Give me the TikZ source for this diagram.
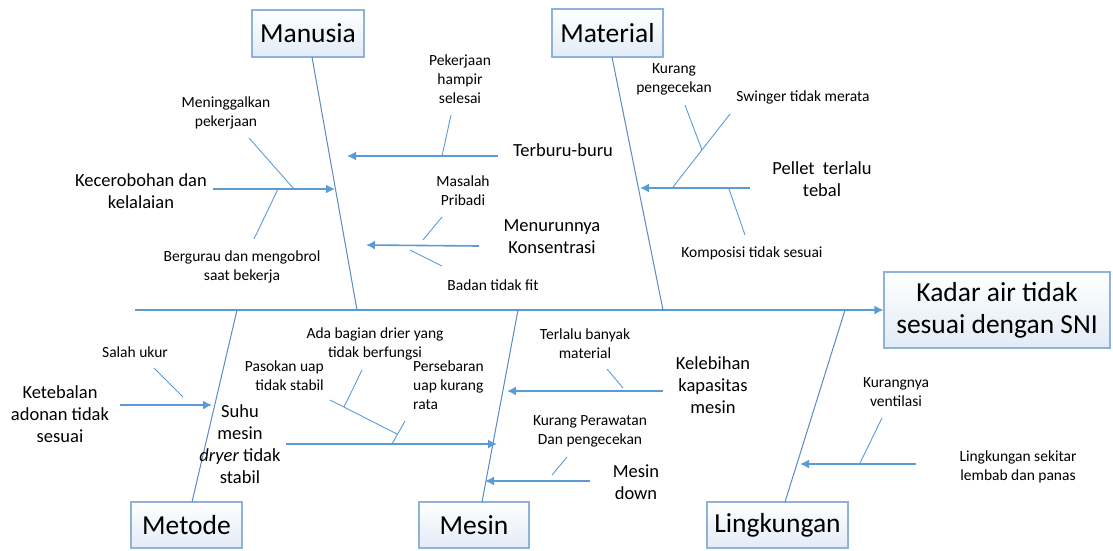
\documentclass[tikz,border=0pt]{standalone}
\usepackage{fontspec}
\setmainfont{Carlito}
\usetikzlibrary{arrows.meta}
\definecolor{arrc}{HTML}{5B9BD5}
\definecolor{bonec}{HTML}{5A8AC6}
\definecolor{boxc}{HTML}{8EB2DC}
\definecolor{boxf}{HTML}{E2EBF6}
\tikzset{
  bone/.style={draw=bonec, line width=1pt},
  arr/.style={draw=arrc, line width=1.6pt, -{Latex[length=9pt,width=9pt]}},
  sub/.style={draw=arrc, line width=0.9pt},
  catbox/.style={draw=boxc, line width=1.1pt, top color=white, bottom color=boxf, inner sep=0pt, font=\fontsize{27.5}{32}\selectfont, align=center},
  big/.style={font=\fontsize{18.5}{22}\selectfont, align=center, inner sep=0pt},
  small/.style={font=\fontsize{15.5}{19}\selectfont, align=center, inner sep=0pt},
}
\begin{document}
\begin{tikzpicture}[x=1pt,y=-1pt]
\useasboundingbox (0,0) rectangle (1113,550);
% category boxes
\node[catbox, minimum width=112pt, minimum height=47pt] (manusia) at (308,33.5) {Manusia};
\node[catbox, minimum width=111pt, minimum height=48pt] (material) at (607.5,33) {Material};
\node[catbox, minimum width=226pt, minimum height=76pt] (kadar) at (997,310) {Kadar air tidak\\sesuai dengan SNI};
\node[catbox, minimum width=111pt, minimum height=46pt] (metode) at (186.5,525) {Metode};
\node[catbox, minimum width=110pt, minimum height=46pt] (mesin) at (474,525) {Mesin};
\node[catbox, minimum width=141pt, minimum height=46pt] (lingk) at (777.5,525) {Lingkungan};

% spine
\coordinate (spL) at (135,310);
\draw[arr] (spL) -- (kadar.west);

% bones
\coordinate (manT) at (312,57);  \coordinate (manB) at (357,310);
\coordinate (matT) at (612,57);  \coordinate (matB) at (663,310);
\coordinate (metT) at (237,310); \coordinate (metB) at (192,502);
\coordinate (mesT) at (518,310); \coordinate (mesB) at (482,502);
\coordinate (linT) at (845,310); \coordinate (linB) at (785,502);
\draw[bone] (manT) -- (manB);
\draw[bone] (matT) -- (matB);
\draw[bone] (metT) -- (metB);
\draw[bone] (mesT) -- (mesB);
\draw[bone] (linT) -- (linB);

% ---- Manusia ----
\node[small] (pekerjaan) at (460,79) {Pekerjaan\\hampir\\selesai};
\node[small] (meninggal) at (226,112.5) {Meninggalkan\\pekerjaan};
\node[big] (kecerobohan) at (141,191.5) {Kecerobohan dan\\kelalaian};
\node[small] (bergurau) at (242,267) {Bergurau dan mengobrol\\saat bekerja};
\node[big] (terburu) at (563,150) {Terburu-buru};
\node[small] (masalah) at (463,190.5) {Masalah\\Pribadi};
\node[big] (menurun) at (552,237) {Menurunnya\\Konsentrasi};
\node[small] (badan) at (493,285) {Badan tidak fit};

\coordinate (tbS) at (498,156); \coordinate (tbE) at (347,156);
\draw[arr] (tbS) -- (tbE);
\coordinate (phA) at (442,156); \coordinate (phB) at (451,115);
\draw[sub] (phA) -- (phB);

\coordinate (kcS) at (213,189); \coordinate (kcE) at (335,189);
\draw[arr] (kcS) -- (kcE);
\coordinate (mpA) at (294,189); \coordinate (mpB) at (249,138);
\draw[sub] (mpA) -- (mpB);
\coordinate (bgA) at (278,189); \coordinate (bgB) at (254,239);
\draw[sub] (bgA) -- (bgB);

\coordinate (mkS) at (479,246); \coordinate (mkE) at (366,245);
\draw[arr] (mkS) -- (mkE);
\coordinate (msA) at (423,240); \coordinate (msB) at (442,217);
\draw[sub] (msA) -- (msB);
\coordinate (btA) at (410,250); \coordinate (btB) at (442,266);
\draw[sub] (btA) -- (btB);

% ---- Material ----
\node[small] (kurangp) at (674,79) {Kurang\\pengecekan};
\node[small] (swinger) at (803,97) {Swinger tidak merata};
\node[big] (pellet) at (822,179) {Pellet~ terlalu\\tebal};
\node[small] (komposisi) at (752,253) {Komposisi tidak sesuai};

\coordinate (ptS) at (750,188); \coordinate (ptE) at (640,188);
\draw[arr] (ptS) -- (ptE);
\coordinate (swA) at (673,187); \coordinate (swB) at (730,114);
\draw[sub] (swA) -- (swB);
\coordinate (kpA) at (702,150); \coordinate (kpB) at (685,105);
\draw[sub] (kpA) -- (kpB);
\coordinate (koA) at (729,189); \coordinate (koB) at (745,235);
\draw[sub] (koA) -- (koB);

% ---- Metode ----
\node[small] (salah) at (135,352) {Salah ukur};
\node[big] (ketebalan) at (60,414) {Ketebalan\\adonan tidak\\sesuai};
\coordinate (ktS) at (120,405); \coordinate (ktE) at (212,405);
\draw[arr] (ktS) -- (ktE);
\coordinate (suA) at (183,397); \coordinate (suB) at (154,368);
\draw[sub] (suA) -- (suB);

% ---- Mesin ----
\node[big] (suhu) at (240,444) {Suhu\\mesin\\\textit{dryer} tidak\\stabil};
\node[small] (adabagian) at (375,343.5) {Ada bagian drier yang\\tidak berfungsi};
\node[small, align=right, anchor=east] (pasokan) at (324,375.5) {Pasokan uap\\tidak stabil};
\node[small, align=left, anchor=west] (persebaran) at (413,385) {Persebaran\\uap kurang\\rata};
\node[small] (terlalu) at (585,343.5) {Terlalu banyak\\material};
\node[big] (kelebihan) at (713,385.5) {Kelebihan\\kapasitas\\mesin};
\node[small] (kurangper) at (590,431) {Kurang Perawatan\\Dan pengecekan};
\node[big] (mesindown) at (636,482) {Mesin\\down};

\coordinate (shS) at (286,444); \coordinate (shE) at (497,444);
\draw[arr] (shS) -- (shE);
\coordinate (psA) at (392,444); \coordinate (psB) at (405,421);
\draw[sub] (psA) -- (psB);
\coordinate (pkA) at (397,434); \coordinate (pkB) at (330,400);
\draw[sub] (pkA) -- (pkB);
\coordinate (adA) at (344,407); \coordinate (adB) at (362,370);
\draw[sub] (adA) -- (adB);

\coordinate (kbS) at (663,391); \coordinate (kbE) at (507,391);
\draw[arr] (kbS) -- (kbE);
\coordinate (tbmA) at (623,388); \coordinate (tbmB) at (607,369);
\draw[sub] (tbmA) -- (tbmB);

\coordinate (mdS) at (590,481); \coordinate (mdE) at (485,481);
\draw[arr] (mdS) -- (mdE);
\coordinate (kwA) at (552,475); \coordinate (kwB) at (567,457);
\draw[sub] (kwA) -- (kwB);

% ---- Lingkungan ----
\node[small] (kurangnya) at (896,392.5) {Kurangnya\\ventilasi};
\node[small] (lingsek) at (1018,467) {Lingkungan sekitar\\lembab dan panas};
\coordinate (lkS) at (916,464); \coordinate (lkE) at (800,464);
\draw[arr] (lkS) -- (lkE);
\coordinate (kvA) at (860,463); \coordinate (kvB) at (882,418);
\draw[sub] (kvA) -- (kvB);
\end{tikzpicture}
\end{document}
